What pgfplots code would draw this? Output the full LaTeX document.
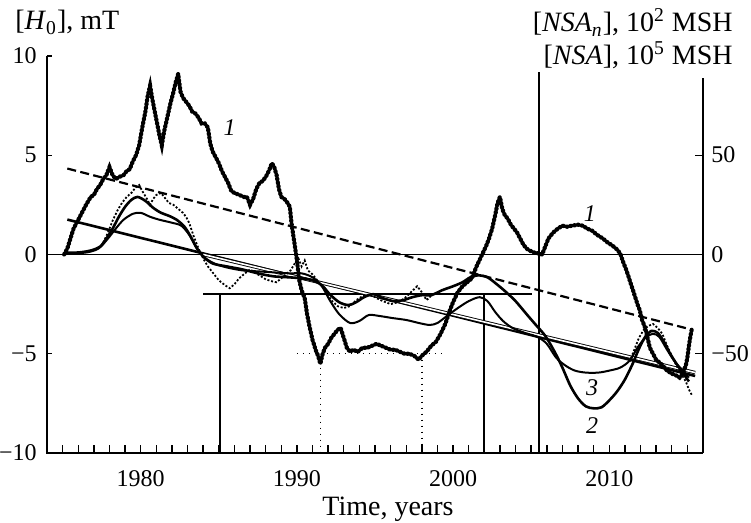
\documentclass[border=0pt]{standalone}
\usepackage{fontspec}
\setmainfont{Liberation Serif}
\usepackage{pgfplots}
\pgfplotsset{compat=1.18}
\begin{document}
\fontsize{12}{14.4}\selectfont
\begin{tikzpicture}
\begin{axis}[
  at={(0,0)}, anchor=south west,
  scale only axis, width=328pt, height=198.5pt,
  xmin=1974, xmax=2016, ymin=-10, ymax=10,
  axis line style={draw=none},
  xtick pos=left, ytick pos=left,
  xtick={1980,1990,2000,2010},
  xticklabels={1980,1990,2000,2010},
  ytick={-10,-5,0,5,10},
  yticklabels={−10,−5,0,5,10},
  tick align=inside,
  major tick length=0pt,
  tick label style={font=\fontsize{12}{14.4}\selectfont},
  xticklabel style={anchor=base, yshift=-17pt},
  yticklabel style={xshift=-1pt},
  clip=false,
]
% axis spines and ticks
\addplot[line width=0.8pt] coordinates {(1974,10) (1974,-10) (2016,-10)};
\pgfplotsinvokeforeach{1975,...,2015}{\addplot[line width=0.7pt] coordinates {(#1,-10) (#1,-9.62)};}
\pgfplotsinvokeforeach{-5,5,10}{\addplot[line width=0.7pt] coordinates {(1974,#1) (1974.34,#1)};}
\pgfplotsinvokeforeach{-5,5}{\addplot[line width=0.7pt] coordinates {(2016,#1) (2015.5,#1)};}
% reference lines
\addplot[line width=0.8pt] coordinates {(1974,0) (2016,0)};
\addplot[line width=0.8pt] coordinates {(2005.5,9.17) (2005.5,-10)};
\addplot[line width=0.8pt] coordinates {(1984,-2) (2005.05,-2)};
\addplot[line width=0.8pt] coordinates {(1985.07,-2) (1985.07,-10)};
\addplot[line width=0.8pt] coordinates {(2001.96,-2) (2001.96,-10)};
\addplot[line width=0.7pt, dash pattern=on 0.8pt off 2.2pt] coordinates {(1990,-5) (1999.6,-5)};
\addplot[line width=0.7pt, dash pattern=on 0.8pt off 2.2pt] coordinates {(1991.5,-5.4) (1991.5,-10)};
\addplot[line width=0.7pt, dash pattern=on 0.8pt off 2.2pt] coordinates {(1998,-5.3) (1998,-10)};
% trends
\addplot[line width=1.1pt, dash pattern=on 4.5pt off 2.2pt] coordinates {(1975.3,4.33) (2015.3,-3.79)};
\addplot[line width=1.3pt] coordinates {(1975.3,1.76) (2015.5,-6.12)};
\addplot[line width=0.45pt, double, double distance=0.8pt] coordinates {(1984,0.0) (2015.5,-5.95)};
% raw thin dotted
\addplot[line width=0.9pt, dash pattern=on 1pt off 0.9pt] coordinates {
(1977.6,0.6)(1977.9,1.1)(1978.2,1.7)(1978.5,2.2)(1978.8,2.6)(1979.1,2.9)(1979.4,3.1)(1979.7,3.4)(1979.9,3.5)(1980.1,3.2)(1980.4,2.8)(1980.6,2.5)(1980.8,2.8)(1981.0,3.0)(1981.3,3.1)(1981.5,2.9)(1981.8,2.6)(1982.1,2.5)(1982.4,2.3)(1982.7,2.1)(1982.9,1.9)(1983.1,1.6)(1983.4,0.9)(1983.7,0.3)(1984.0,-0.2)(1984.3,-0.6)(1984.7,-1.0)(1985.0,-1.3)(1985.4,-1.55)(1985.7,-1.7)(1986.0,-1.5)(1986.3,-1.2)(1986.6,-1.0)(1987.0,-0.75)(1987.3,-0.9)(1987.7,-1.1)(1988.0,-1.25)(1988.4,-1.35)(1988.7,-1.4)(1989.0,-1.2)(1989.3,-1.0)(1989.6,-0.8)(1989.9,-0.4)(1990.1,-0.2)(1990.3,-0.6)(1990.5,-0.3)(1990.7,-0.8)(1991.0,-1.0)(1991.4,-1.4)(1991.8,-1.8)(1992.2,-2.3)(1992.6,-2.6)(1993.0,-2.7)(1993.4,-2.6)(1993.8,-2.3)(1994.2,-2.1)(1994.7,-2.0)(1995.1,-2.2)(1995.5,-2.35)(1996.0,-2.5)(1996.5,-2.4)(1996.9,-2.2)(1997.3,-1.9)(1997.7,-1.6)(1998.0,-1.9)(1998.3,-2.3)(1998.7,-2.0)(1999.1,-1.9)};
\addplot[line width=0.9pt, dash pattern=on 1pt off 0.9pt] coordinates {
(2011.3,-5.4)(2011.6,-4.8)(2011.9,-4.2)(2012.2,-3.8)(2012.5,-3.6)(2012.8,-3.5)(2013.1,-3.7)(2013.4,-4.0)(2013.7,-4.6)(2014.0,-5.1)(2014.3,-5.6)(2014.6,-6.0)(2014.9,-6.4)(2015.1,-6.8)(2015.3,-7.1)};
% curve 2
\addplot[line width=1.3pt, smooth] coordinates {
(1975.2,0.1)(1976.0,0.1)(1976.8,0.2)(1977.4,0.4)(1977.8,0.8)(1978.2,1.3)(1978.6,1.9)(1979.0,2.4)(1979.4,2.75)(1979.8,2.9)(1980.3,2.7)(1980.8,2.35)(1981.3,2.1)(1981.8,1.95)(1982.3,1.75)(1982.8,1.4)(1983.2,0.9)(1983.6,0.3)(1984.0,-0.1)(1984.6,-0.45)(1985.5,-0.6)(1986.5,-0.75)(1987.5,-0.95)(1988.5,-1.1)(1989.5,-1.15)(1990.3,-1.2)(1991.0,-1.3)(1991.6,-1.55)(1992.1,-2.0)(1992.7,-2.4)(1993.3,-2.55)(1993.8,-2.4)(1994.3,-2.15)(1994.9,-2.0)(1995.5,-2.2)(1996.2,-2.35)(1996.8,-2.3)(1997.4,-2.15)(1998.0,-2.05)(1998.6,-2.05)(1999.3,-1.8)(2000.0,-1.6)(2000.6,-1.4)(2001.1,-1.15)(2001.6,-1.05)(2002.2,-1.15)(2002.8,-1.5)(2003.4,-1.9)(2004.0,-2.35)(2004.7,-3.0)(2005.3,-3.55)(2005.9,-4.1)(2006.5,-4.9)(2007.0,-5.7)(2007.5,-6.6)(2008.0,-7.25)(2008.5,-7.65)(2009.0,-7.75)(2009.5,-7.7)(2010.0,-7.35)(2010.5,-6.9)(2011.0,-6.3)(2011.5,-5.5)(2011.9,-4.75)(2012.3,-4.15)(2012.7,-3.85)(2013.1,-3.95)(2013.5,-4.4)(2013.9,-5.0)(2014.3,-5.5)(2014.7,-5.95)(2015.1,-6.4)};
% curve 3
\addplot[line width=1pt, smooth] coordinates {
(1975.2,0.05)(1976.5,0.1)(1977.3,0.3)(1977.9,0.8)(1978.4,1.3)(1978.9,1.75)(1979.5,2.05)(1980.0,2.1)(1980.6,1.9)(1981.2,1.75)(1982.0,1.6)(1982.6,1.45)(1983.1,1.0)(1983.5,0.45)(1984.0,-0.1)(1984.7,-0.45)(1985.5,-0.65)(1986.5,-0.8)(1987.5,-0.85)(1988.5,-0.9)(1989.5,-0.95)(1990.3,-0.95)(1991.0,-1.15)(1991.6,-1.6)(1992.1,-2.3)(1992.7,-3.0)(1993.4,-3.45)(1994.0,-3.35)(1994.6,-3.05)(1995.3,-3.1)(1996.1,-3.2)(1997.0,-3.3)(1997.8,-3.45)(1998.5,-3.55)(1999.0,-3.45)(1999.6,-3.1)(2000.3,-2.7)(2001.0,-2.35)(2001.7,-2.15)(2002.2,-2.35)(2002.7,-2.9)(2003.2,-3.35)(2003.8,-3.7)(2004.6,-3.95)(2005.4,-4.15)(2006.0,-4.5)(2006.6,-5.2)(2007.2,-5.6)(2007.8,-5.85)(2008.5,-5.95)(2009.3,-5.95)(2010.0,-5.85)(2010.7,-5.7)(2011.3,-5.35)(2011.8,-4.7)(2012.3,-4.2)(2012.8,-4.0)(2013.2,-4.15)(2013.7,-4.8)(2014.2,-5.4)(2014.7,-5.85)(2015.1,-6.2)};
% curve 1 (solid core + dotted fuzz)
\pgfplotstableread{
x y
1975.1 0.0
1975.3 0.3
1975.5 0.8
1975.7 1.3
1975.9 1.6
1976.1 1.9
1976.3 2.2
1976.5 2.5
1976.8 2.9
1977.0 3.0
1977.2 3.3
1977.4 3.5
1977.6 3.8
1977.8 4.0
1978.0 4.4
1978.2 4.0
1978.4 3.8
1978.6 3.9
1978.9 4.0
1979.1 4.2
1979.3 4.3
1979.5 4.7
1979.7 5.0
1979.9 5.5
1980.1 6.4
1980.3 7.2
1980.45 8.0
1980.6 8.5
1980.75 7.8
1980.9 7.2
1981.05 6.6
1981.2 6.0
1981.35 5.5
1981.5 6.2
1981.7 6.9
1981.9 7.6
1982.1 8.2
1982.25 8.7
1982.4 9.1
1982.55 8.2
1982.7 7.9
1982.9 7.7
1983.1 7.5
1983.3 7.2
1983.5 7.1
1983.7 6.9
1983.9 6.6
1984.1 6.6
1984.3 6.4
1984.45 5.6
1984.6 5.2
1984.8 4.9
1985.0 4.6
1985.2 4.2
1985.4 3.9
1985.6 3.6
1985.8 3.2
1986.0 3.1
1986.3 3.0
1986.6 2.9
1986.8 2.9
1987.0 2.5
1987.2 2.8
1987.4 3.3
1987.6 3.6
1987.8 3.7
1988.0 3.9
1988.2 4.2
1988.4 4.6
1988.55 4.4
1988.7 4.0
1988.85 3.3
1989.0 2.9
1989.2 2.8
1989.4 2.6
1989.55 2.4
1989.65 1.6
1989.8 0.8
1989.95 0.0
1990.05 -0.6
1990.15 -1.3
1990.3 -1.8
1990.5 -2.2
1990.65 -3.0
1990.8 -3.6
1991.0 -4.3
1991.2 -4.8
1991.35 -5.1
1991.5 -5.5
1991.65 -5.0
1991.8 -4.7
1992.0 -4.5
1992.2 -4.2
1992.4 -4.0
1992.6 -3.8
1992.8 -3.7
1993.0 -4.2
1993.2 -4.7
1993.4 -4.9
1993.6 -4.8
1993.9 -4.9
1994.2 -4.7
1994.5 -4.7
1994.8 -4.6
1995.1 -4.5
1995.4 -4.6
1995.7 -4.7
1996.0 -4.8
1996.3 -4.8
1996.6 -4.9
1996.9 -5.0
1997.2 -5.0
1997.5 -5.1
1997.8 -5.3
1998.0 -5.1
1998.3 -4.9
1998.6 -4.6
1998.9 -4.4
1999.2 -4.0
1999.5 -3.5
1999.8 -2.8
2000.0 -2.4
2000.3 -1.9
2000.6 -1.6
2000.9 -1.4
2001.2 -1.2
2001.5 -0.6
2001.8 -0.1
2002.1 0.4
2002.3 0.8
2002.5 1.3
2002.7 2.0
2002.85 2.6
2003.0 2.9
2003.15 2.3
2003.3 2.0
2003.5 1.8
2003.7 1.5
2003.9 1.3
2004.1 1.1
2004.3 0.8
2004.5 0.5
2004.7 0.3
2004.9 0.2
2005.2 0.1
2005.5 0.05
2005.7 0.0
2005.9 0.4
2006.1 0.8
2006.4 1.1
2006.7 1.3
2007.0 1.45
2007.3 1.4
2007.6 1.45
2008.0 1.5
2008.3 1.45
2008.6 1.3
2008.9 1.2
2009.2 1.0
2009.6 0.8
2009.9 0.6
2010.2 0.45
2010.5 0.25
2010.7 0.05
2010.9 -0.4
2011.1 -0.8
2011.35 -1.4
2011.6 -2.0
2011.8 -2.5
2011.95 -2.8
2012.1 -3.3
2012.3 -3.7
2012.45 -4.2
2012.6 -4.7
2012.8 -5.0
2013.0 -5.3
2013.3 -5.5
2013.7 -5.85
2014.0 -6.0
2014.3 -6.1
2014.5 -6.2
2014.7 -6.0
2014.9 -5.6
2015.0 -5.2
2015.1 -4.6
2015.2 -4.1
2015.3 -3.7
}\curveone
\addplot[line width=0.9pt, line join=round] table[x=x,y=y] {\curveone};
\addplot[line width=2.1pt, dash pattern=on 0.5pt off 1.4pt, line cap=round] table[x=x,y=y] {\curveone};
% curve labels
\node[font=\itshape] at (axis cs:1985.7,6.4) {1};
\node[font=\itshape] at (axis cs:2008.75,2.05) {1};
\node[font=\itshape] at (axis cs:2008.9,-6.7) {3};
\node[font=\itshape] at (axis cs:2008.9,-8.6) {2};
\end{axis}
\begin{axis}[
  at={(0,0)}, anchor=south west,
  scale only axis, width=328pt, height=187.5pt,
  xmin=1974, xmax=2016, ymin=-100, ymax=88.7,
  axis line style={draw=none},
  xtick=\empty, ytick pos=right,
  ytick={-50,0,50}, yticklabels={−50,0,50},
  major tick length=0pt,
  tick label style={font=\fontsize{12}{14.4}\selectfont},
  clip=false,
]
\addplot[line width=0.8pt] coordinates {(2016,-100) (2016,88.7)};
\end{axis}
\begin{scope}[font=\fontsize{14}{16.8}\selectfont]
\node[anchor=base west, inner sep=0] at (-16pt,211.5pt) {[\textit{H}\textsubscript{0}], mT};
\node[anchor=base east, inner sep=0] at (343pt,210.5pt) {[\textit{NSA}\textsubscript{\textit{n}}], 10\textsuperscript{2} MSH};
\node[anchor=base east, inner sep=0] at (343pt,194pt) {[\textit{NSA}], 10\textsuperscript{5} MSH};
\node[anchor=base, inner sep=0] at (170.5pt,-31.5pt) {Time, years};
\end{scope}
\pgfresetboundingbox
\path (-23.5pt,-35pt) rectangle (352pt,226.5pt);
\end{tikzpicture}
\end{document}
